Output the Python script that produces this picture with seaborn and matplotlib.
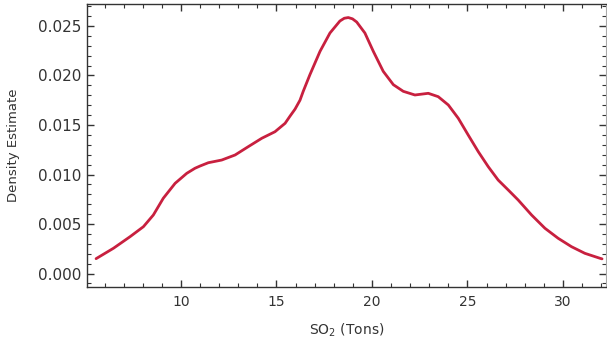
import numpy as np
import seaborn as sns
import matplotlib.pyplot as plt
from matplotlib.ticker import MultipleLocator, FormatStrFormatter

# density values
so2_tons = [5.55, 6.46, 7.33, 8.03, 8.55, 9.07, 9.69, 10.30, 10.73, 11.00,
            11.43, 12.13, 12.83, 13.52, 14.23, 14.92, 15.45, 15.71, 15.97,
            16.23, 16.40, 16.75, 17.28, 17.80, 18.32, 18.55, 18.76, 18.98,
            19.20, 19.63, 20.07, 20.59, 21.12, 21.64, 22.25, 22.95, 23.47,
            24.00, 24.52, 25.04, 25.57, 26.09, 26.61, 27.14, 27.66, 28.36,
            29.06, 29.75, 30.45, 31.15, 31.94, 32.05]
density = [0.00150, 0.00255, 0.00372, 0.00473, 0.00591, 0.00760, 0.00911,
           0.01012, 0.01063, 0.01086, 0.01119, 0.01146, 0.01197, 0.01281,
           0.01366, 0.01432, 0.01517, 0.01590, 0.01660, 0.01750, 0.01840,
           0.02008, 0.02244, 0.02429, 0.02550, 0.02578, 0.02585, 0.02572,
           0.02540, 0.02429, 0.02244, 0.02042, 0.01907, 0.01840, 0.01803,
           0.01820, 0.01786, 0.01702, 0.01568, 0.01399, 0.01230, 0.01079,
           0.00944, 0.00843, 0.00742, 0.00591, 0.00457, 0.00356, 0.00271,
           0.00204, 0.00154, 0.00148]

sns.set_theme(style="ticks")
plt.rcParams['font.family'] = ['DejaVu Sans']

fig = plt.figure(figsize=(6.07, 3.44), dpi=100)
ax = fig.add_axes([0.1438, 0.1666, 0.854, 0.8218])

sns.lineplot(x=so2_tons, y=density, color="#C8203F", lw=2.0, ax=ax)

ax.set_xlim(5.09, 32.24)
ax.set_ylim(-0.00133, 0.02722)

ax.xaxis.set_major_locator(MultipleLocator(5))
ax.xaxis.set_minor_locator(MultipleLocator(1))
ax.yaxis.set_major_locator(MultipleLocator(0.005))
ax.yaxis.set_minor_locator(MultipleLocator(0.001))
ax.yaxis.set_major_formatter(FormatStrFormatter("%.3f"))

ax.tick_params(which="both", direction="in", top=True, right=True,
               colors="#333333", labelcolor="#333333")
ax.tick_params(which="major", length=5, width=1.0)
ax.tick_params(which="minor", length=3, width=0.8)
ax.tick_params(axis="x", labelsize=10, pad=6)
ax.tick_params(axis="y", labelsize=11, pad=4.5)

for side in ["left", "bottom", "top"]:
    ax.spines[side].set_color("#333333")
    ax.spines[side].set_linewidth(1.0)
ax.spines["right"].set_color("#aaaaaa")
ax.spines["right"].set_linewidth(0.8)

ax.set_xlabel(r"SO$_2$ (Tons)", fontsize=10, color="#333333")
ax.set_ylabel("Density Estimate", fontsize=9.5, color="#333333")
ax.xaxis.set_label_coords(0.5, -0.122)
ax.yaxis.set_label_coords(-0.130, 0.5)

fig.savefig("out.png", dpi=100)
